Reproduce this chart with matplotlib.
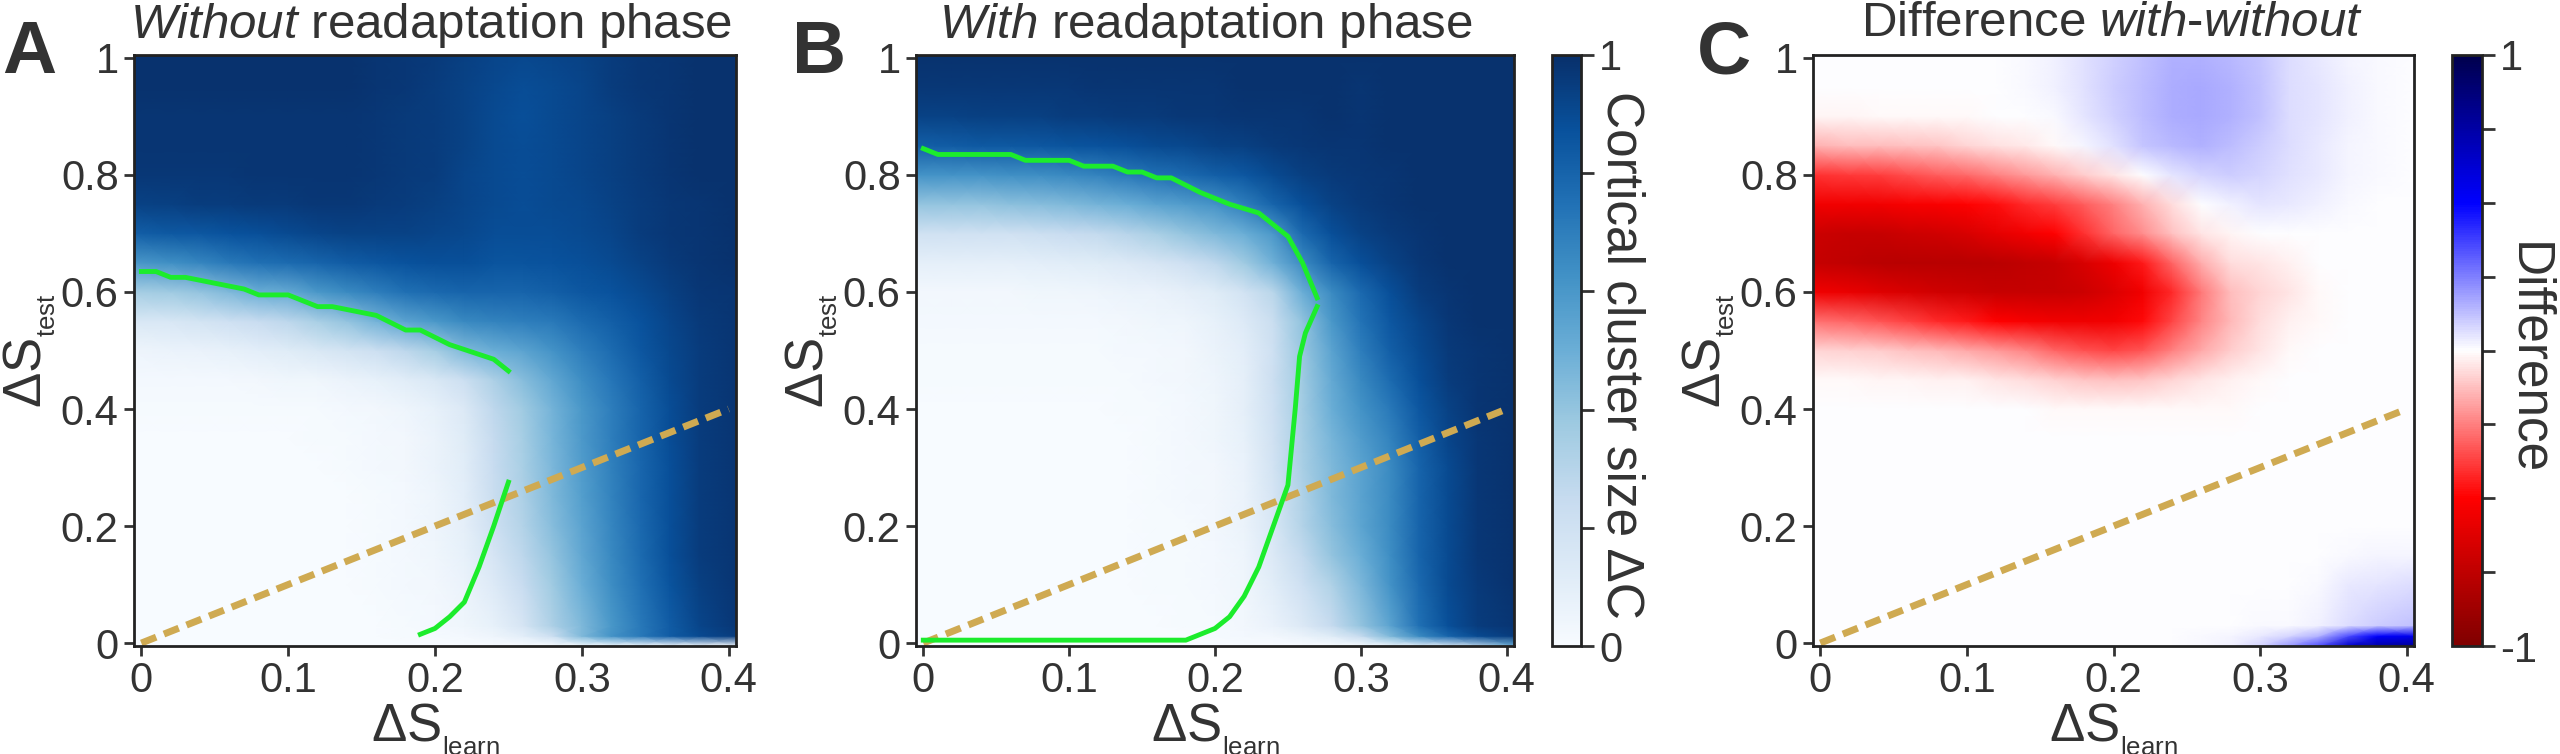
import matplotlib
matplotlib.use("Agg")
import matplotlib.pyplot as plt
import numpy as np
from matplotlib.cm import ScalarMappable
from matplotlib.colors import Normalize

plt.rcParams['font.family'] = ['Liberation Sans', 'DejaVu Sans']
plt.rcParams['mathtext.fontset'] = 'custom'
plt.rcParams['mathtext.rm'] = 'Liberation Sans'
plt.rcParams['mathtext.it'] = 'Liberation Sans:italic'
plt.rcParams['mathtext.bf'] = 'Liberation Sans:bold'

TEXT = '#333333'
W, H = 2560, 754

# grid of the maps
s_learn = [-0.005, 0.02, 0.04, 0.06, 0.08, 0.10, 0.12, 0.14, 0.16, 0.18, 0.20,
           0.22, 0.24, 0.26, 0.28, 0.30, 0.32, 0.34, 0.36, 0.38, 0.405]
s_test = [-0.005, 0.012, 0.03, 0.1, 0.15, 0.2, 0.25, 0.3, 0.35, 0.4, 0.45,
          0.5, 0.55, 0.6, 0.65, 0.7, 0.75, 0.8, 0.85, 0.9, 0.95, 1.005]

without_map = [
    [0,0,0,0,0,0,0,0,0,0,0,0,0,0,0,.01,.01,.01,.01,.01,.01],
    [0,0,0,0,0,0,0,0,0,.01,.01,.02,.05,.10,.22,.45,.62,.72,.83,.90,.95],
    [0,0,0,0,0,0,0,0,0,.01,.02,.04,.08,.17,.33,.45,.60,.72,.83,.92,.97],
    [0,0,0,0,0,0,0,0,.01,.02,.03,.06,.13,.24,.37,.50,.64,.75,.86,.94,.98],
    [0,0,0,0,0,0,0,0,.01,.02,.04,.08,.17,.28,.40,.53,.66,.77,.88,.95,.98],
    [0,0,0,0,0,0,0,0,.01,.02,.05,.09,.21,.31,.43,.55,.67,.78,.88,.95,.98],
    [0,0,0,0,0,0,0,0,.01,.02,.05,.10,.23,.33,.45,.57,.68,.79,.88,.95,.98],
    [0,0,0,0,0,0,0,.01,.02,.03,.06,.11,.24,.34,.46,.58,.69,.79,.88,.95,.98],
    [0,0,0,0,0,0,.01,.01,.02,.03,.06,.12,.25,.35,.47,.59,.70,.80,.89,.95,.98],
    [.01,.01,.01,.01,.01,.01,.01,.02,.03,.05,.08,.14,.27,.37,.48,.60,.70,.80,.89,.95,.98],
    [.02,.02,.02,.02,.03,.04,.04,.06,.08,.11,.15,.22,.33,.43,.53,.64,.73,.82,.90,.95,.98],
    [.05,.06,.07,.08,.10,.12,.15,.18,.22,.28,.35,.45,.50,.55,.62,.70,.77,.85,.91,.95,.98],
    [.15,.16,.18,.21,.24,.28,.34,.40,.48,.55,.60,.66,.68,.70,.72,.77,.82,.87,.92,.96,.98],
    [.35,.37,.40,.45,.50,.52,.60,.65,.70,.75,.78,.80,.80,.80,.82,.85,.87,.90,.94,.97,.98],
    [.60,.63,.67,.72,.75,.77,.80,.83,.85,.87,.88,.88,.86,.86,.87,.88,.90,.93,.96,.98,.99],
    [.82,.84,.85,.87,.88,.90,.92,.93,.93,.93,.92,.91,.89,.89,.89,.90,.92,.95,.97,.98,.99],
    [.93,.94,.95,.95,.96,.96,.97,.97,.96,.95,.94,.92,.90,.89,.90,.91,.93,.95,.97,.98,.99],
    [.97,.97,.97,.97,.98,.98,.98,.98,.97,.96,.95,.92,.90,.89,.90,.92,.94,.96,.98,.99,.99],
    [.98,.98,.98,.98,.98,.98,.98,.98,.97,.96,.95,.93,.90,.89,.90,.92,.94,.96,.98,.99,.99],
    [.98,.98,.98,.98,.98,.98,.98,.98,.97,.96,.95,.93,.90,.88,.90,.92,.94,.96,.98,.99,.99],
    [.99,.99,.99,.99,.99,.99,.99,.99,.98,.97,.95,.93,.91,.89,.90,.92,.95,.97,.98,.99,.99],
    [.99,.99,.99,.99,.99,.99,.99,.99,.98,.97,.96,.94,.92,.91,.92,.93,.95,.97,.98,.99,.99],
]

with_map = [
    [0,0,0,0,0,0,0,0,0,0,0,0,0,0,0,.01,.05,.10,.15,.30,.50],
    [0,0,0,0,0,0,0,0,0,0,.01,.02,.03,.06,.12,.25,.45,.65,.80,.90,.95],
    [0,0,0,0,0,0,0,0,0,.01,.01,.03,.07,.14,.25,.40,.55,.75,.88,.95,.98],
    [0,0,0,0,0,0,0,0,.01,.01,.02,.04,.11,.21,.32,.46,.62,.78,.90,.96,.99],
    [0,0,0,0,0,0,0,0,.01,.01,.02,.05,.14,.26,.40,.50,.64,.80,.90,.97,.99],
    [0,0,0,0,0,0,0,0,.01,.01,.03,.06,.16,.31,.43,.54,.65,.80,.90,.97,.99],
    [0,0,0,0,0,0,0,0,.01,.02,.03,.06,.17,.32,.45,.55,.65,.80,.90,.97,.99],
    [0,0,0,0,0,0,0,0,.01,.02,.03,.07,.19,.34,.45,.55,.65,.80,.90,.97,.99],
    [0,0,0,0,0,0,0,0,.01,.02,.04,.08,.20,.35,.47,.58,.68,.82,.92,.97,.99],
    [0,0,0,0,0,0,0,.01,.01,.02,.04,.09,.21,.36,.50,.62,.72,.85,.93,.98,.99],
    [.01,.01,.01,.01,.01,.01,.01,.01,.02,.03,.05,.09,.22,.37,.52,.66,.77,.88,.95,.98,.99],
    [.01,.01,.01,.01,.01,.01,.01,.02,.02,.03,.06,.10,.21,.39,.55,.70,.82,.90,.96,.98,.99],
    [.02,.02,.02,.02,.02,.02,.02,.03,.04,.05,.08,.13,.23,.41,.60,.74,.85,.92,.97,.99,.99],
    [.03,.03,.03,.03,.04,.04,.05,.06,.07,.09,.12,.19,.29,.50,.65,.78,.88,.95,.98,.99,.99],
    [.09,.09,.09,.09,.10,.11,.12,.14,.17,.21,.27,.37,.49,.65,.80,.88,.93,.97,.99,.99,.99],
    [.20,.20,.20,.20,.22,.24,.26,.30,.34,.40,.45,.50,.60,.78,.88,.93,.96,.98,.99,.99,.99],
    [.40,.40,.40,.42,.43,.45,.48,.50,.55,.58,.62,.70,.80,.88,.93,.96,.98,.99,.99,.99,.99],
    [.62,.62,.62,.63,.64,.66,.68,.72,.75,.78,.82,.85,.90,.94,.96,.97,.98,.99,.99,.99,.99],
    [.82,.83,.84,.84,.85,.86,.87,.88,.90,.91,.93,.94,.96,.97,.98,.98,.99,.99,.99,.99,.99],
    [.93,.93,.94,.94,.94,.95,.95,.96,.96,.97,.97,.98,.98,.98,.99,.98,.99,.99,.99,.99,.99],
    [.97,.97,.97,.97,.97,.97,.98,.98,.98,.98,.98,.99,.99,.99,.99,.98,.99,.99,.99,.99,.99],
    [.99,.99,.99,.99,.99,.99,.99,.99,.99,.99,.99,.99,.99,.99,.99,.99,.99,.99,.99,.99,.99],
]

diff_map = [
    [0,0,0,0,0,0,0,0,0,0,0,0,0,.01,.03,.08,.20,.35,.65,.75,.80],
    [0,0,0,0,0,0,0,0,0,0,0,0,0,.01,.02,.04,.08,.15,.35,.50,.55],
    [0,0,0,0,0,0,0,0,0,0,0,0,0,0,0,.01,.01,.03,.07,.10,.12],
    [0,0,0,0,0,0,0,0,0,0,0,0,0,0,0,0,0,.01,.04,.05,.07],
    [0,0,0,0,0,0,0,0,0,0,0,0,0,0,0,0,0,0,.01,.02,.02],
    [0,0,0,0,0,0,0,0,0,0,0,0,0,0,0,0,0,0,0,0,0],
    [0,0,0,0,0,0,0,0,0,0,0,0,0,0,0,0,0,0,0,0,0],
    [0,0,0,0,0,0,0,0,0,0,0,0,0,0,0,0,0,0,0,0,0],
    [0,0,0,0,0,0,0,0,0,0,0,0,0,0,0,0,0,0,0,0,0],
    [0,0,0,0,0,0,0,0,-.01,-.01,-.01,-.01,-.01,-.01,-.01,0,0,0,0,0,0],
    [-.01,-.01,-.02,-.02,-.03,-.03,-.05,-.07,-.09,-.11,-.12,-.11,-.08,-.05,-.03,-.01,0,0,0,0,0],
    [-.08,-.09,-.10,-.12,-.14,-.17,-.20,-.24,-.30,-.34,-.36,-.33,-.25,-.17,-.10,-.05,-.01,0,0,0,0],
    [-.28,-.30,-.33,-.37,-.42,-.45,-.50,-.53,-.55,-.56,-.54,-.48,-.36,-.24,-.14,-.07,-.03,-.01,0,0,0],
    [-.55,-.58,-.62,-.65,-.68,-.70,-.72,-.72,-.72,-.70,-.64,-.55,-.42,-.26,-.13,-.08,-.05,-.01,0,0,0],
    [-.72,-.75,-.77,-.78,-.78,-.78,-.77,-.75,-.72,-.65,-.57,-.45,-.30,-.16,-.07,-.05,-.03,0,0,0,0],
    [-.70,-.72,-.72,-.70,-.68,-.65,-.60,-.55,-.50,-.40,-.30,-.22,-.12,-.05,-.02,0,0,0,0,0,0],
    [-.55,-.55,-.55,-.53,-.52,-.50,-.47,-.42,-.38,-.32,-.25,-.15,-.07,0,.03,.05,.04,.03,.01,0,0],
    [-.40,-.39,-.38,-.35,-.32,-.29,-.25,-.20,-.15,-.10,-.05,0,.05,.08,.10,.08,.06,.04,.02,.01,0],
    [-.15,-.13,-.13,-.12,-.11,-.08,-.06,-.04,-.01,.02,.06,.11,.14,.15,.13,.10,.07,.04,.02,.01,0],
    [-.02,-.02,-.01,-.01,-.01,-.01,0,0,.01,.05,.09,.13,.16,.17,.15,.12,.07,.05,.03,.01,0],
    [0,0,0,0,0,0,0,.01,.03,.06,.10,.13,.16,.17,.15,.12,.07,.05,.03,.01,0],
    [0,0,0,0,0,0,0,.01,.03,.06,.09,.12,.15,.15,.14,.11,.07,.04,.02,.01,0],
]

# green contours and the dashed diagonal
a_upper_x = [0, .01, .02, .03, .05, .07, .08, .10, .12, .13, .15, .16, .18, .19, .21, .24, .25]
a_upper_y = [.635, .635, .625, .625, .615, .605, .595, .595, .575, .575, .565, .56, .535, .535, .51, .485, .465]
a_lower_x = [.19, .20, .21, .22, .23, .24, .25]
a_lower_y = [.015, .025, .045, .07, .13, .20, .275]
b_upper_x = [0, .01, .06, .07, .10, .11, .13, .14, .15, .16, .17, .19, .21, .23, .25, .26, .27]
b_upper_y = [.845, .835, .835, .825, .825, .815, .815, .805, .805, .795, .795, .77, .75, .735, .695, .65, .59]
b_lower_x = [0, .18, .19, .20, .21, .22, .23, .24, .25, .255, .258, .262, .27]
b_lower_y = [.005, .005, .015, .025, .045, .08, .13, .20, .27, .40, .49, .53, .575]
diag_x = [0, .4]
diag_y = [0, .4]

x_ticks = [0, .1, .2, .3, .4]
x_labels = ['0', '0.1', '0.2', '0.3', '0.4']
y_ticks = [0, .2, .4, .6, .8, 1]
y_labels = ['0', '0.2', '0.4', '0.6', '0.8', '1']


def makeAxes(fig, x0, x1, y0, y1):
    return fig.add_axes([x0 / W, 1 - y1 / H, (x1 - x0) / W, (y1 - y0) / H])


def drawMap(fig, box, values, cmap, vmin, vmax, title, letter, letter_x, title_x):
    ax = makeAxes(fig, *box)
    ax.pcolormesh(s_learn, s_test, np.array(values), cmap=cmap, vmin=vmin, vmax=vmax, shading='gouraud')
    ax.plot(diag_x, diag_y, color='#cfaa52', lw=5, ls=(0, (2.3, 1.2)))
    ax.set_xlim(-0.005, 0.405)
    ax.set_ylim(-0.005, 1.005)
    ax.set_xticks(x_ticks, x_labels)
    ax.set_yticks(y_ticks, y_labels)
    ax.tick_params(length=7, width=2, labelsize=30, colors=TEXT, pad=4)
    for s in ax.spines.values():
        s.set_linewidth(2)
        s.set_color('#222222')
    ax.set_xlabel('ΔS$_{_{\\mathrm{learn}}}$', fontsize=38, color=TEXT, labelpad=0)
    ax.set_ylabel('ΔS$_{_{\\mathrm{test}}}$', fontsize=38, color=TEXT, labelpad=3)
    fig.text(title_x / W, 1 - 1 / H, title, fontsize=35.5, color=TEXT, ha='center', va='top')
    fig.text(letter_x / W, 1 - 73 / H, letter, fontsize=54, fontweight='bold', color=TEXT, ha='left', va='baseline')
    return ax


def drawBar(fig, box, cmap, vmin, vmax, ticks, labels, text, text_x, text_y):
    cax = makeAxes(fig, *box)
    cb = fig.colorbar(ScalarMappable(Normalize(vmin, vmax), cmap), cax=cax)
    cb.set_ticks(ticks, labels=labels)
    cb.ax.tick_params(length=9, width=2, labelsize=30, colors=TEXT, pad=4)
    cb.outline.set_linewidth(2)
    cb.outline.set_edgecolor('#222222')
    fig.text(text_x / W, 1 - text_y / H, text, rotation=270, fontsize=37, color=TEXT, ha='center', va='center')


fig = plt.figure(figsize=(W / 100, H / 100), dpi=100)

ax_a = drawMap(fig, (134, 736, 55, 646), without_map, 'Blues', 0, 1,
               '$\\mathit{Without}$ readaptation phase', 'A', 2, 431)
ax_a.plot(a_upper_x, a_upper_y, color='#1cec2c', lw=3.5)
ax_a.plot(a_lower_x, a_lower_y, color='#1cec2c', lw=3.5)

ax_b = drawMap(fig, (916, 1514, 55, 646), with_map, 'Blues', 0, 1,
               '$\\mathit{With}$ readaptation phase', 'B', 792, 1206)
ax_b.plot(b_upper_x, b_upper_y, color='#1cec2c', lw=3.5)
ax_b.plot(b_lower_x, b_lower_y, color='#1cec2c', lw=3.5)

drawBar(fig, (1552, 1581, 55, 646), 'Blues', 0, 1, [0, .2, .4, .6, .8, 1],
        ['0', '', '', '', '', '1'], 'Cortical cluster size ΔC', 1621, 355)

drawMap(fig, (1813, 2414, 55, 646), diff_map, 'seismic_r', -1, 1,
        'Difference $\\mathit{with}$-$\\mathit{without}$', 'C', 1697, 2112)

drawBar(fig, (2452, 2482, 55, 646), 'seismic_r', -1, 1,
        [-1, -.75, -.5, -.25, 0, .25, .5, .75, 1],
        ['-1', '', '', '', '', '', '', '', '1'], 'Difference', 2528, 359)

fig.savefig('out.png', dpi=100)
